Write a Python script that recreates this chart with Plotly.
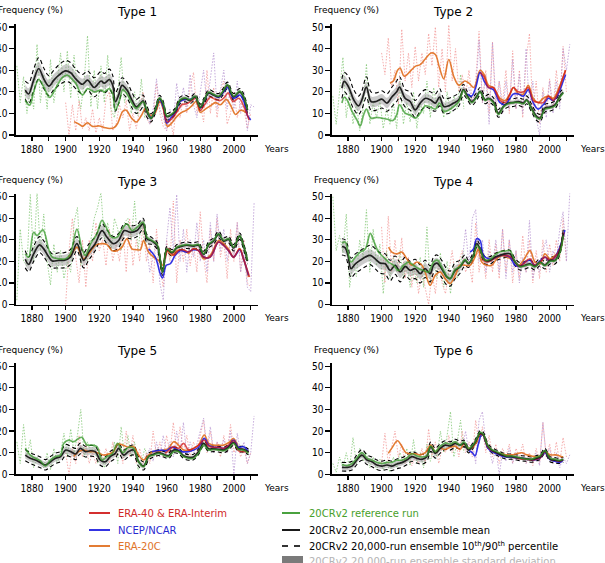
import plotly.graph_objects as go

W, H = 605, 563

# ---------------------------------------------------------------- data
X_TICK_VALUES = [1870, 1880, 1890, 1900, 1910, 1920, 1930, 1940, 1950, 1960, 1970, 1980, 1990, 2000, 2010]
X_TICK_LABELS = ["", "1880", "", "1900", "", "1920", "", "1940", "", "1960", "", "1980", "", "2000", ""]
Y_TICK_VALUES = [0, 10, 20, 30, 40, 50]
TITLES = ["Type 1", "Type 2", "Type 3", "Type 4", "Type 5", "Type 6"]

# annual (unsmoothed) values, sampled every second year
RAW_REF_YEARS = list(range(1871, 1950, 2))     # 20CRv2 reference run, 1871-1949
RAW_E20C_YEARS = list(range(1900, 2011, 2))    # ERA-20C, 1900-2010
RAW_MOD_YEARS = list(range(1948, 2013, 2))     # NCEP/NCAR & ERA, 1948-2012

# ---- Type 1
T1_ENS_YEARS = [1876, 1878, 1881, 1884, 1887, 1890, 1893, 1896, 1900, 1903,
                1906, 1910, 1913, 1917, 1921, 1923, 1926, 1928, 1929.5, 1931.5,
                1933.5, 1936.5, 1939.5, 1942, 1944.5, 1946, 1948.3, 1950.7, 1953.3, 1955.8,
                1957.8, 1960.2, 1962.6, 1965, 1968, 1971, 1974, 1977, 1980, 1982.4,
                1985, 1988, 1991, 1993.5, 1996.2, 1999.8, 2003.4, 2005.7, 2008.1]
T1_MEAN = [20.8, 19, 25.4, 30.8, 26, 22.6, 25.4, 27.7, 29.7, 28.8,
           26, 23.5, 25.4, 22, 25, 24, 25.7, 23, 15.4, 18.5,
           23, 20.8, 16, 13, 14.6, 15.8, 10.8, 7.7, 11.5, 16.9,
           14.6, 8.5, 9.2, 10.8, 16, 16.9, 16, 17.7, 12.8, 16,
           19.5, 18.5, 17.7, 20, 23, 17.7, 20, 17.7, 11.5]
T1_P90 = [25, 24, 30.5, 35.8, 31, 27.5, 30, 32.5, 34.5, 33.5,
          30.5, 28, 29.7, 26.5, 29.5, 28.5, 30.5, 27.5, 19.5, 22.5,
          26.5, 24.5, 19.5, 16.5, 18, 18.5, 13.5, 9.7, 13, 18.4,
          16.1, 10, 10.7, 12.3, 17.5, 18.4, 17.5, 19.2, 14.3, 17.5,
          21, 20, 19.2, 21.5, 24.5, 19.2, 21.5, 19.2, 13]
T1_P10 = [16.5, 14.5, 20.5, 26, 21.5, 18.3, 21, 23, 24.8, 24,
          21.5, 19, 20.8, 17.7, 20.5, 19.5, 21, 18.5, 11, 14.5,
          19, 17, 12.5, 10, 11.5, 13, 8.3, 6, 10, 15.4,
          13.1, 7, 7.7, 9.3, 14.5, 15.4, 14.5, 16.2, 11.3, 14.5,
          18, 17, 16.2, 18.5, 21.5, 16.2, 18.5, 16.2, 10]
T1_SD = [2.6, 2.6, 2.8, 3, 3, 2.8, 2.8, 2.8, 3, 3,
         2.8, 2.6, 2.6, 2.6, 2.7, 2.7, 2.8, 2.6, 2.3, 2.3,
         2.5, 2.3, 2, 1.8, 1.8, 1.6, 1.3, 1, 1, 1,
         1, 0.9, 0.9, 0.9, 1, 1, 1, 1, 0.9, 0.9,
         1, 1, 1, 1, 1, 1, 1, 1, 1]
T1_REF_YEARS = [1876, 1878.6, 1881, 1884, 1887, 1890.5, 1894, 1898, 1901, 1904,
                1906, 1910, 1913, 1917, 1921, 1923, 1926, 1928, 1929.5, 1932,
                1934, 1936.5, 1939.5, 1942, 1946, 1948.3, 1950.7, 1953.3, 1955.8, 1957.8,
                1960.2, 1962.6, 1965, 1968, 1971, 1974, 1977, 1980, 1982.4, 1985,
                1988, 1991, 1993.5, 1996.2, 1999.8, 2003.4, 2005.7, 2008.1]
T1_REF = [16, 13.8, 20, 25.7, 22.3, 17.4, 21.5, 26.6, 27.7, 25.7,
          24, 18.5, 21.5, 20, 20.8, 20, 21.5, 19, 11.5, 16,
          21, 19, 14.6, 12.3, 15.4, 11.5, 7.7, 11.8, 17.2, 15,
          8.8, 9.5, 11.2, 16.3, 17.2, 16.3, 18, 13, 16.3, 19.8,
          18.8, 18, 20.3, 23.3, 18, 20.3, 18, 11.8]
T1_E20C_YEARS = [1905, 1908, 1910, 1913, 1916, 1920, 1923, 1926, 1929, 1931,
                 1934, 1936, 1939, 1942, 1945, 1947.5, 1950.5, 1953, 1956, 1958,
                 1960.5, 1963, 1966, 1969, 1972, 1975, 1977.5, 1980, 1983, 1986,
                 1989, 1992, 1995.5, 1998.5, 2001, 2004, 2008]
T1_E20C = [6.2, 5, 4, 5.7, 4, 4.2, 3.5, 3, 3.5, 5.5,
           11, 11.5, 8, 6, 9, 12.3, 9, 10, 15.4, 12,
           4, 5.5, 8.5, 10.5, 11.5, 13.5, 15.5, 10.5, 12, 13.5,
           15, 14, 16.5, 13, 9.5, 11.5, 10]
T1_ERA_YEARS = [1958, 1960.5, 1963, 1966, 1969, 1972, 1975, 1977.5, 1980, 1983,
                1986, 1989, 1992, 1995, 1996.5, 1999.5, 2003, 2006, 2009]
T1_ERA = [13, 6, 7.5, 10.5, 14, 14.5, 16, 17, 11.5, 14.5,
          17.5, 16.5, 16, 18, 19.5, 15.5, 17, 13, 7]
T1_NCEP_YEARS = [1949, 1951, 1953.3, 1955.8, 1958, 1960.2, 1962.6, 1965, 1968, 1971,
                 1974, 1977, 1980, 1982.4, 1985, 1988, 1991, 1993.5, 1996.2, 1999.8,
                 2003.4, 2005.7, 2008.1, 2010]
T1_NCEP = [10, 8, 11.5, 16.5, 13, 5.5, 8, 10, 15.5, 16.5,
           16.5, 17.5, 12.5, 16, 19.5, 18.5, 17.5, 19.5, 22, 17,
           18.5, 16, 9, 7]
T1_RAW_REF = [32, 15, 27, 10, 22, 12, 42, 15, 28, 12,
              35, 15, 25, 38, 20, 39, 17, 37, 20, 12,
              25, 46, 13, 30, 12, 32, 15, 37, 12, 8,
              20, 36, 15, 22, 10, 20, 9, 26, 8, 14]
T1_RAW_E20C = [15, 0, 14, 2, 16, 3, 8, 2, 12, 1,
               8, 2, 17, 20, 2, 5, 14, 8, 16, 2,
               10, 3, 12, 20, 8, 5, 8, 24, 10, 4,
               2, 8, 0, 15, 8, 18, 10, 22, 29, 10,
               14, 6, 30, 10, 22, 8, 20, 25, 5, 10,
               20, 8, 15, 12, 3, 10]
T1_RAW_MOD = [12, 5, 12, 26, 12, 8, 2, 12, 6, 24,
              12, 22, 12, 28, 14, 8, 20, 30, 14, 25,
              38, 12, 22, 30, 12, 22, 12, 25, 10, 20,
              2, 14, 13]

# ---- Type 2
T2_ENS_YEARS = [1876.4, 1877.8, 1880.4, 1883.4, 1886.3, 1888.3, 1891, 1893.7, 1896.8, 1900.2,
                1903.2, 1906, 1909, 1910.7, 1914, 1917, 1920, 1923, 1926, 1929,
                1932, 1934.5, 1937, 1940, 1943, 1946, 1948.7, 1950.7, 1953.7, 1956.6,
                1958.6, 1961.6, 1963.6, 1966.5, 1969.5, 1972.5, 1975.4, 1978.4, 1981.4, 1984.4,
                1986.3, 1989.3, 1992.3, 1994.3, 1997.2, 2000.2, 2003.2, 2006.1, 2008.1]
T2_MEAN = [21.7, 24.8, 22.2, 16.3, 13.5, 16.3, 22.2, 15.5, 15.5, 16.6,
           14.8, 17.5, 20, 22.2, 17, 15.5, 11.6, 14.8, 17, 16.3,
           14.8, 17.5, 13.2, 13.5, 14.8, 16.3, 21, 18.6, 15.5, 17.9,
           20.2, 16.3, 17, 15.5, 10, 13.2, 14.8, 15, 15.5, 14.8,
           16.3, 12.4, 8.5, 7.8, 12.4, 12.9, 14, 17.9, 19.7]
T2_P90 = [26, 29, 27, 21, 18, 20.5, 27, 20, 19.5, 20.5,
          19, 22, 25, 27, 21, 20, 16, 19, 21, 20,
          19, 21.5, 17, 17, 18, 19.5, 23.5, 20.5, 17.3, 19.7,
          22, 18.1, 18.8, 17.3, 11.8, 15, 16.6, 16.8, 17.3, 16.6,
          18.1, 14.2, 10.3, 9.6, 14.2, 14.7, 15.8, 19.7, 21.5]
T2_P10 = [17, 20, 17.5, 12, 9.5, 12, 17.5, 11.5, 11.5, 12.5,
          11, 13, 15.5, 17.5, 13, 11.5, 8, 11, 13, 12,
          11, 13.5, 10, 10, 11.5, 13.5, 18.5, 16.7, 13.7, 16.1,
          18.4, 14.5, 15.2, 13.7, 8.2, 11.4, 13, 13.2, 13.7, 13,
          14.5, 10.6, 6.7, 6, 10.6, 11.1, 12.2, 16.1, 17.9]
T2_SD = [2.6, 2.6, 2.6, 2.4, 2.4, 2.4, 2.6, 2.4, 2.4, 2.4,
         2.4, 2.4, 2.6, 2.6, 2.4, 2.4, 2.2, 2.2, 2.2, 2.2,
         2.2, 2.2, 2, 2, 1.9, 1.7, 1.4, 1.1, 1, 1,
         1, 1, 1, 1, 1, 1, 1, 1, 1, 1,
         1, 1, 1, 1, 1, 1, 1, 1, 1]
T2_REF_YEARS = [1876.4, 1877.8, 1879.4, 1882.4, 1885.3, 1887.3, 1889.3, 1891, 1893.7, 1897.2,
                1900, 1903.6, 1906.7, 1909, 1910.7, 1914, 1917, 1920, 1923, 1926,
                1929, 1932, 1934.5, 1937, 1940, 1943, 1946, 1948.7, 1950.7, 1953.7,
                1956.6, 1958.6, 1961.6, 1963.6, 1966.5, 1969.5, 1972.5, 1975.4, 1978.4, 1981.4,
                1984.4, 1986.3, 1989.3, 1992.3, 1994.3, 1997.2, 2000.2, 2003.2, 2006.1, 2008.1]
T2_REF = [14.8, 17.5, 16.3, 10.9, 7, 4.2, 9.3, 12, 7.8, 8.2,
          7.8, 7.3, 6.7, 9.3, 14, 10.1, 9.3, 7.8, 10.1, 13.5,
          12.9, 12, 14.8, 10.9, 11.6, 13.2, 15.5, 20.7, 18, 15,
          17.5, 20, 16, 16.8, 15, 9.5, 13, 14.5, 15, 15,
          14.5, 16, 12, 8, 7.5, 12, 12.5, 13.5, 17.5, 19.5]
T2_E20C_YEARS = [1905, 1907, 1909.5, 1911, 1913.5, 1917, 1920, 1923, 1926, 1929.5,
                 1932, 1934.5, 1937, 1940, 1943, 1946, 1949.5, 1952, 1955, 1958.6,
                 1961, 1963.6, 1966.5, 1970.5, 1973.5, 1976.4, 1978.4, 1981.4, 1984.4, 1987.3,
                 1990.2, 1993.2, 1996.2, 1999.2, 2002.2, 2005.1, 2008.1, 2009.5]
T2_E20C = [24, 25, 30, 31, 27.2, 29.5, 31.8, 32.6, 35.2, 38,
           37.3, 31, 26, 35, 27, 23, 25, 24, 22, 30,
           28, 23, 22, 17, 16, 19, 22, 19, 19, 23,
           17, 15, 17, 18, 17, 21, 27, 30]
T2_ERA_YEARS = [1958.6, 1961, 1963.6, 1966.5, 1970.5, 1973.5, 1976.4, 1978.4, 1981.4, 1984.4,
                1987.3, 1990.2, 1993.2, 1996.2, 1999.2, 2002.2, 2005.1, 2008.1, 2009.5]
T2_ERA = [29, 27, 22, 22, 16, 15, 19, 22, 20, 20,
          22, 16, 15, 15, 18, 16, 20, 27, 30]
T2_NCEP_YEARS = [1951, 1953.5, 1956, 1958.6, 1961, 1963.6, 1966.5, 1970.5, 1973.5, 1976.4,
                 1978.4, 1981.4, 1984.4, 1987.3, 1990.2, 1993.2, 1996.2, 1999.2, 2002.2, 2005.1,
                 2008.1, 2009.5]
T2_NCEP = [19, 18, 22, 29, 25, 22, 21, 15, 14, 17,
           19, 19, 18, 21, 15, 12, 14, 17, 16, 19,
           25, 28]
T2_RAW_REF = [18, 5, 20, 36, 8, 20, 5, 15, 2, 12,
              33, 5, 15, 8, 16, 3, 12, 5, 15, 3,
              25, 5, 15, 6, 20, 3, 15, 10, 25, 8,
              22, 12, 18, 8, 20, 10, 18, 12, 28, 12]
T2_RAW_E20C = [38, 28, 45, 22, 30, 14, 49, 25, 38, 22,
               41, 25, 38, 28, 47, 32, 50, 22, 40, 20,
               51, 25, 40, 20, 28, 18, 30, 15, 25, 48,
               15, 30, 10, 43, 10, 25, 15, 30, 10, 39,
               12, 30, 8, 35, 47, 10, 25, 5, 22, 12,
               26, 12, 30, 15, 41, 20]
T2_RAW_MOD = [25, 18, 22, 15, 20, 44, 15, 28, 5, 43,
              15, 25, 10, 25, 12, 35, 12, 28, 10, 40,
              12, 25, 8, 0, 20, 8, 25, 10, 25, 12,
              40, 30, 42]

# ---- Type 3
T3_ENS_YEARS = [1876, 1878, 1881, 1884.5, 1887, 1890, 1892, 1896, 1899, 1902.8,
                1906.7, 1910.7, 1913.7, 1917.6, 1921.6, 1924.6, 1928.5, 1931.5, 1934.9, 1938.4,
                1942.4, 1946, 1948.3, 1951.3, 1954.3, 1957.6, 1960.2, 1963.2, 1966.1, 1969.1,
                1972, 1976, 1979, 1982, 1985, 1987.9, 1990.9, 1993.9, 1996.8, 1999.8,
                2003.4, 2005.7, 2008.1]
T3_MEAN = [21, 18.6, 23.5, 27.7, 25.8, 22, 20.2, 20.5, 20.5, 22,
           28.2, 20.5, 24.3, 28.2, 34.3, 31.2, 28.2, 29.7, 34.3, 33.5,
           34.3, 37.4, 30.5, 29.4, 27.4, 15, 25.5, 24, 26.3, 27.1,
           27.5, 27.1, 27.5, 23.2, 27.7, 29.4, 32.5, 29.4, 30.2, 26.3,
           31.7, 27.1, 20.2]
T3_P90 = [25, 22, 27, 31.5, 29.5, 25.5, 23.5, 24, 24, 25.5,
          31.5, 24, 28, 31.5, 37.5, 34.5, 31.5, 33, 37.5, 36.5,
          37, 40, 32.5, 31, 29, 16.5, 27, 25.5, 27.8, 28.6,
          29, 28.6, 29, 24.7, 29.2, 30.9, 34, 30.9, 31.7, 27.8,
          33.2, 28.6, 21.7]
T3_P10 = [17, 15.2, 20, 24, 22.2, 18.5, 17, 17, 17, 18.5,
          25, 17, 20.6, 25, 31, 28, 25, 26.4, 31, 30.5,
          31.5, 34.8, 28.5, 27.8, 25.8, 13.5, 24, 22.5, 24.8, 25.6,
          26, 25.6, 26, 21.7, 26.2, 27.9, 31, 27.9, 28.7, 24.8,
          30.2, 25.6, 18.7]
T3_SD = [2.6, 2.6, 2.6, 2.6, 2.6, 2.6, 2.5, 2.5, 2.5, 2.5,
         2.5, 2.5, 2.5, 2.5, 2.5, 2.5, 2.5, 2.5, 2.4, 2.3,
         2.2, 2, 1.6, 1.3, 1.1, 1, 1, 1, 1, 1,
         1, 1, 1, 1, 1, 1, 1, 1, 1, 1,
         1, 1, 1]
T3_REF_YEARS = [1876, 1878, 1881, 1883, 1886.5, 1890, 1892, 1896, 1900, 1902.8,
                1906.7, 1909.7, 1911.7, 1914.7, 1918.6, 1921.6, 1924.6, 1927.5, 1930.5, 1933.5,
                1936.4, 1939.4, 1942.4, 1946, 1948.3, 1951.3, 1954.3, 1957.6, 1960.2, 1963.2,
                1966.1, 1969.1, 1972, 1976, 1979, 1982, 1985, 1987.9, 1990.9, 1993.9,
                1996.8, 1999.8, 2003.4, 2005.7, 2008.1]
T3_REF = [23.5, 22, 33.5, 32, 34.6, 25.4, 22, 21.2, 21.2, 23.5,
          35, 25.8, 22.8, 28, 32.8, 39, 35, 31.2, 31.2, 35,
          37.4, 34.3, 35.8, 38.2, 31.2, 29.7, 28, 15, 25.8, 24.3,
          26.6, 27.4, 27.8, 27.4, 27.8, 23.5, 28, 29.7, 32.8, 29.7,
          30.5, 26.6, 32, 27.4, 20.5]
T3_E20C_YEARS = [1901.8, 1904, 1906.7, 1910.7, 1913.7, 1917.6, 1920.6, 1924.6, 1927.5, 1930.5,
                 1933.5, 1936.4, 1939.4, 1942.4, 1944.4, 1946.3, 1949.3, 1952.3, 1955.2, 1957.6,
                 1960.2, 1963.2, 1966.1, 1970.1, 1973, 1976, 1979, 1982, 1985.9, 1990.9,
                 1993.9, 1996.8, 1999.8, 2003.4, 2005.7, 2008.7]
T3_E20C = [22, 24, 26.6, 21.2, 23.5, 27.4, 28.2, 27.8, 25, 25,
           26.6, 30.5, 25.8, 25.4, 25.4, 29.7, 24.3, 22, 20.5, 18.2,
           25, 22.8, 25, 25, 23.8, 25.8, 25, 21.2, 22.8, 29.7,
           28.2, 25.8, 22, 25.8, 21.2, 12.8]
T3_ERA_YEARS = [1959.2, 1961.2, 1964.2, 1967.1, 1970.1, 1973, 1976, 1979, 1982, 1985.9,
                1990.9, 1993.9, 1996.8, 1999.8, 2003.4, 2005.7, 2009.3]
T3_ERA = [21.2, 25.8, 22.8, 25, 25.4, 24.3, 25.8, 25, 22, 22,
          29, 27.4, 25, 22, 25.8, 21.2, 12.8]
T3_NCEP_YEARS = [1949.3, 1953.3, 1956.2, 1957.6, 1959.8, 1962.2, 1965.1, 1968.1, 1972, 1976,
                 1979, 1982, 1985.9, 1990.9, 1993.9, 1996.8, 1999.8, 2003.4, 2005.7, 2008.7]
T3_NCEP = [25.8, 22, 14.3, 12.3, 18.2, 18.9, 22.8, 25, 24.3, 25.4,
           25, 22, 22, 29, 27.4, 25, 22, 25.4, 21.2, 13.5]
T3_RAW_REF = [2, 35, 20, 18, 51, 20, 52, 25, 42, 20,
              9, 28, 15, 25, 12, 20, 15, 38, 45, 18,
              25, 20, 30, 40, 45, 52, 30, 38, 25, 40,
              35, 25, 38, 40, 30, 48, 25, 38, 28, 30]
T3_RAW_E20C = [0, 25, 40, 22, 10, 30, 8, 30, 20, 38,
               25, 30, 18, 35, 20, 28, 20, 35, 15, 40,
               18, 30, 20, 38, 20, 28, 10, 35, 18, 8,
               30, 20, 48, 10, 30, 20, 35, 18, 28, 15,
               43, 22, 10, 35, 20, 40, 22, 30, 12, 35,
               20, 38, 15, 30, 10, 8]
T3_RAW_MOD = [28, 15, 22, 30, 10, 2, 30, 45, 25, 51,
              20, 35, 15, 30, 22, 38, 20, 30, 15, 38,
              20, 42, 25, 35, 20, 30, 22, 38, 15, 25,
              8, 6, 47]

# ---- Type 4
T4_ENS_YEARS = [1876.4, 1878.4, 1880, 1881.8, 1884.4, 1887.3, 1890.3, 1893.3, 1896.2, 1899.2,
                1902.2, 1905.1, 1908.1, 1911.1, 1914.1, 1917, 1920, 1923, 1925.9, 1928.9,
                1930.9, 1932.9, 1935.8, 1938.8, 1940.8, 1943.8, 1946.7, 1949.7, 1951.7, 1954.7,
                1956.6, 1958.6, 1961.6, 1964.6, 1967.5, 1970.5, 1973.5, 1976.4, 1979.4, 1982.4,
                1985.3, 1988.3, 1991.3, 1994.3, 1997.2, 2000.2, 2003.2, 2006.1, 2008.1]
T4_MEAN = [26.9, 26.3, 22.8, 16.6, 18.9, 20.5, 22, 22.8, 21.2, 19.2,
           18.9, 15.8, 18.2, 15.1, 17.7, 15.8, 16.6, 14.3, 16.6, 14.3,
           18.2, 19.2, 16.6, 12.8, 12, 15.8, 17.4, 20.5, 18.9, 22.8,
           28.2, 25.8, 20.5, 20.5, 22, 22.8, 23.5, 23.5, 19.7, 17.7,
           18.2, 18.9, 17.7, 19.7, 18.2, 20.5, 20.5, 25, 33]
T4_P90 = [30.5, 30, 27, 21.5, 23.5, 25, 26.5, 27.5, 26, 24,
          23.5, 20.5, 22.5, 19.5, 22, 20, 21, 18.5, 20.5, 18,
          22, 23, 20.5, 16.5, 15.5, 19.5, 20.5, 23, 20.5, 24.5,
          30, 27.5, 22.2, 22.2, 23.7, 24.5, 25.2, 25.2, 21.4, 19.4,
          19.9, 20.6, 19.4, 21.4, 19.9, 22.2, 22.2, 26.7, 34.7]
T4_P10 = [23, 22.5, 18.5, 12.5, 14.5, 16, 17.5, 18.5, 16.5, 14.5,
          14, 11, 14, 10.5, 13.5, 11.5, 12, 10, 12.5, 10.5,
          14.5, 15.5, 12.5, 9, 8.5, 12, 14.5, 18, 17.2, 21.1,
          26.5, 24.1, 18.8, 18.8, 20.3, 21.1, 21.8, 21.8, 18, 16,
          16.5, 17.2, 16, 18, 16.5, 18.8, 18.8, 23.3, 31.3]
T4_SD = [2.8, 2.8, 2.8, 2.8, 2.8, 2.8, 2.8, 2.8, 2.8, 2.8,
         2.8, 2.8, 2.8, 2.8, 2.7, 2.7, 2.7, 2.6, 2.6, 2.6,
         2.6, 2.5, 2.5, 2.4, 2.3, 2.2, 1.8, 1.3, 1, 1,
         1, 1, 1, 1, 1, 1, 1, 1, 1, 1,
         1, 1, 1, 1, 1, 1, 1, 1, 1]
T4_REF_YEARS = [1876.4, 1878.4, 1880, 1881.8, 1884.4, 1887.3, 1890.3, 1893.3, 1895.2, 1898.2,
                1901.2, 1904.2, 1907.1, 1910.1, 1913.1, 1916, 1919, 1922, 1925, 1927.9,
                1930.9, 1933.3, 1935.8, 1938.8, 1940.8, 1943.8, 1946.7, 1949.7, 1951.7, 1954.7,
                1956.6, 1958.6, 1961.6, 1964.6, 1967.5, 1970.5, 1973.5, 1976.4, 1979.4, 1982.4,
                1985.3, 1988.3, 1991.3, 1994.3, 1997.2, 2000.2, 2003.2, 2006.1, 2008.1]
T4_REF = [28.5, 29, 24.3, 19.7, 22, 24.3, 25.8, 33, 29.7, 24.3,
          22, 19.7, 18.2, 15.8, 18.2, 19.7, 18.2, 16.6, 15.8, 15.1,
          19.7, 20.5, 17.4, 13.1, 12, 16.2, 17.7, 20.8, 19.2, 22.5,
          27.5, 25.5, 20.5, 21, 23, 24.5, 24.8, 25, 20, 17.5,
          18, 18.5, 17.5, 19.5, 18, 20, 20.3, 24, 32]
T4_E20C_YEARS = [1904.2, 1906.1, 1909.1, 1912.1, 1915, 1918, 1921, 1924, 1925.9, 1928.9,
                 1931.9, 1934.9, 1937.8, 1940.8, 1943.8, 1946.7, 1949.7, 1952.7, 1955.6, 1957.6,
                 1959.6, 1962.6, 1965.5, 1968.5, 1971.5, 1974.5, 1978.4, 1981.4, 1984.4, 1988.3,
                 1991.3, 1994.3, 1997.2, 2000.2, 2003.2, 2006.1, 2008.1]
T4_E20C = [26.6, 24.3, 23.5, 24.3, 21.2, 18.2, 19.7, 18.2, 15.1, 8.9,
           13.5, 15.1, 12, 9.7, 13.5, 18.2, 18.2, 18.2, 22, 25.8,
           19.7, 18.2, 18.2, 21.2, 22.8, 22, 20.5, 18.2, 20.5, 25,
           19.7, 18.9, 23.5, 21.2, 22.8, 25, 32.8]
T4_ERA_YEARS = [1959.6, 1962.6, 1965.5, 1968.5, 1971.5, 1974.5, 1978.4, 1981.4, 1984.4, 1988.3,
                1991.3, 1994.3, 1997.2, 2000.2, 2003.2, 2006.1, 2008.5]
T4_ERA = [21.2, 19.7, 20.5, 22, 22.8, 22.8, 21.2, 17.7, 18.9, 21.2,
          18.2, 19.7, 22, 20.5, 22, 25.8, 33.5]
T4_NCEP_YEARS = [1952.7, 1954.7, 1956.6, 1958.6, 1960.6, 1963.6, 1966.5, 1970.5, 1973.5, 1976.4,
                 1979.4, 1982.4, 1985.3, 1988.3, 1991.3, 1994.3, 1997.2, 2000.2, 2003.2, 2006.1,
                 2009.1]
T4_NCEP = [24.3, 25.8, 30.5, 29.7, 22.8, 21.2, 21.2, 22.8, 22.8, 22,
           18.2, 17.7, 19.7, 20.5, 18.2, 20.2, 22, 20.2, 22, 26.6,
           34.6]
T4_RAW_REF = [50, 25, 32, 24, 42, 8, 20, 13, 30, 22,
              44, 15, 35, 18, 28, 5, 25, 12, 22, 15,
              25, 12, 20, 8, 18, 10, 22, 8, 36, 10,
              20, 12, 24, 8, 20, 5, 18, 12, 20, 25]
T4_RAW_E20C = [36, 10, 41, 15, 30, 15, 31, 12, 22, 8,
               20, 5, 15, 8, 0, 15, 5, 20, 10, 5,
               15, 25, 12, 20, 25, 15, 20, 10, 38, 15,
               25, 12, 30, 15, 28, 12, 35, 15, 30, 10,
               25, 12, 32, 15, 30, 10, 25, 12, 30, 15,
               28, 18, 30, 20, 40, 20]
T4_RAW_MOD = [20, 35, 18, 40, 44, 20, 30, 15, 25, 18,
              30, 15, 35, 12, 30, 15, 25, 10, 22, 15,
              39, 12, 20, 15, 25, 30, 15, 25, 20, 35,
              43, 20, 52]

# ---- Type 5
T5_ENS_YEARS = [1876, 1879, 1882, 1885, 1888, 1891, 1894, 1897, 1900, 1903,
                1906, 1908.7, 1911.7, 1914.7, 1917.6, 1920.6, 1923.6, 1926.5, 1929.5, 1931.5,
                1934.5, 1937.4, 1940.4, 1943.4, 1946.3, 1949.3, 1952.3, 1955.2, 1958.2, 1961.2,
                1964.2, 1967.1, 1970.1, 1973.1, 1976, 1979, 1982, 1985, 1987.9, 1990.9,
                1993.9, 1996.8, 1999.8, 2002.8, 2005.7, 2008.7]
T5_MEAN = [8.9, 7.4, 6.6, 5.4, 4.3, 5.8, 7.4, 8.2, 11.2, 10.5,
           9.4, 12, 10.5, 10.9, 10.5, 6.6, 5.8, 8.2, 9.7, 12,
           8.9, 10.5, 11.2, 5.8, 3.8, 8.2, 9.3, 10, 9.3, 8.6,
           11.2, 10.8, 8.6, 7.8, 8, 10.5, 14.3, 11.8, 11.8, 11.6,
           11.2, 12.5, 14.7, 11.8, 11.6, 10.3]
T5_P90 = [11.5, 10, 9, 8, 6.8, 8.2, 9.8, 10.6, 13.8, 13,
          12, 14.5, 13, 13.4, 13, 9, 8.2, 10.6, 12, 14.3,
          11.2, 12.8, 13.5, 8, 5.8, 9.8, 10.6, 11.3, 10.6, 9.9,
          12.5, 12.1, 9.9, 9.1, 9.3, 11.8, 15.6, 13.1, 13.1, 12.9,
          12.5, 13.8, 16, 13.1, 12.9, 11.6]
T5_P10 = [6.3, 5, 4, 3, 2, 3.5, 5, 5.8, 8.6, 8,
          6.8, 9.5, 8, 8.4, 8, 4.2, 3.5, 5.8, 7.4, 9.7,
          6.6, 8.2, 8.9, 3.6, 2, 6.6, 8, 8.7, 8, 7.3,
          9.9, 9.5, 7.3, 6.5, 6.7, 9.2, 13, 10.5, 10.5, 10.3,
          9.9, 11.2, 13.4, 10.5, 10.3, 9]
T5_SD = [1.6, 1.6, 1.6, 1.6, 1.5, 1.5, 1.5, 1.6, 1.7, 1.7,
         1.7, 1.7, 1.7, 1.7, 1.7, 1.6, 1.5, 1.5, 1.5, 1.5,
         1.5, 1.5, 1.5, 1.3, 1.2, 1.0, 0.8, 0.8, 0.8, 0.8,
         0.8, 0.8, 0.8, 0.8, 0.8, 0.8, 0.8, 0.8, 0.8, 0.8,
         0.8, 0.8, 0.8, 0.8, 0.8, 0.8]
T5_REF_YEARS = [1876, 1879, 1882, 1885, 1888, 1891, 1894, 1897, 1898.8, 1901.8,
                1904.8, 1907.7, 1909.7, 1912.7, 1915.6, 1918.6, 1921.6, 1924.6, 1927.5, 1930.9,
                1934, 1937.4, 1940.4, 1943.4, 1946.3, 1949.3, 1952.3, 1955.2, 1958.2, 1961.2,
                1964.2, 1967.1, 1970.1, 1973.1, 1976, 1979, 1982, 1985, 1987.9, 1990.9,
                1993.9, 1996.8, 1999.8, 2002.8, 2005.7, 2008.7]
T5_REF = [12, 8.9, 7.4, 6.2, 3.8, 6.6, 8.2, 8.9, 14.3, 15.8,
          15.1, 16.6, 17.1, 13.5, 13.5, 12.8, 6.6, 8.2, 9.4, 14.3,
          10, 12.5, 12, 5.8, 3.5, 8.2, 8.9, 9.7, 8.9, 8.2,
          10.5, 10.5, 8.2, 7.4, 7.4, 9.7, 13.5, 11.2, 11.5, 11.2,
          10.9, 12, 14.3, 11.5, 11.2, 9.7]
T5_E20C_YEARS = [1904.8, 1907.7, 1910.7, 1913.7, 1916.6, 1919.6, 1922.6, 1925.5, 1928.5, 1930.9,
                 1934, 1937.4, 1940.4, 1943.4, 1946.3, 1949.3, 1952.3, 1955.2, 1958.2, 1961.2,
                 1964.2, 1967.1, 1970.1, 1973.1, 1976, 1979, 1982.4, 1985, 1987.9, 1990.9,
                 1993.9, 1996.8, 1999.8, 2002.8, 2005.7, 2008.7]
T5_E20C = [8.2, 10.5, 11.2, 10.5, 10.5, 9.7, 8.9, 9.4, 10.5, 14,
           13.5, 12.5, 12.8, 8.9, 6.6, 8.9, 10.5, 10.5, 11.2, 12,
           15.1, 13.5, 11.2, 11.2, 12, 13.5, 18.2, 14.3, 13.5, 13.5,
           13.5, 14.6, 16.6, 12.5, 11.2, 10.5]
T5_ERA_YEARS = [1959.2, 1961.2, 1964.2, 1967.1, 1970.1, 1973.1, 1976, 1979, 1982.4, 1985,
                1987.9, 1990.9, 1993.9, 1996.8, 1999.8, 2002.8, 2005.7, 2008.7]
T5_ERA = [9.7, 10.9, 12.8, 12, 14.3, 11.2, 12, 13.5, 15.8, 13.1,
          12.5, 12.5, 12, 13.5, 15.5, 10.9, 10.5, 10.5]
T5_NCEP_YEARS = [1951.3, 1954.3, 1957.2, 1960, 1963, 1966, 1969, 1973.1, 1976, 1979,
                 1982.4, 1985, 1987.9, 1990.9, 1993.9, 1996.8, 1999.8, 2002.8, 2005.7, 2008.7]
T5_NCEP = [10.5, 10.9, 11.2, 10.9, 12.5, 11.5, 10.5, 10.5, 11.2, 12.5,
           16.6, 13.5, 12.5, 12.5, 12, 13.1, 15.8, 12.5, 12.8, 10.5]
T5_RAW_REF = [15, 5, 23, 8, 16, 3, 8, 5, 3, 10,
              2, 12, 5, 10, 19, 8, 21, 10, 18, 30,
              8, 15, 10, 14, 5, 10, 3, 10, 8, 15,
              5, 22, 8, 18, 8, 15, 2, 5, 12, 8]
T5_RAW_E20C = [10, 0, 12, 5, 18, 8, 14, 5, 10, 5,
               12, 6, 12, 5, 15, 8, 14, 5, 20, 8,
               18, 5, 12, 5, 10, 5, 20, 8, 15, 8,
               18, 10, 24, 10, 22, 10, 18, 8, 15, 10,
               18, 25, 10, 20, 10, 15, 8, 18, 10, 23,
               10, 15, 8, 12, 5, 10]
T5_RAW_MOD = [8, 12, 6, 15, 8, 18, 10, 15, 8, 20,
              10, 24, 8, 15, 10, 14, 20, 26, 12, 22,
              10, 15, 12, 16, 10, 20, 0, 19, 10, 15,
              5, 10, 27]

# ---- Type 6
T6_ENS_YEARS = [1876.4, 1879.4, 1882.4, 1885.3, 1888.3, 1891.3, 1894.3, 1897.2, 1900.2, 1903.2,
                1906.1, 1909.1, 1912.1, 1915, 1918, 1921, 1924, 1926.9, 1929.3, 1931.9,
                1934.9, 1937.8, 1940.8, 1943.8, 1946.7, 1949.1, 1951.7, 1954.3, 1956.6, 1958.6,
                1960.6, 1963, 1965.5, 1968.5, 1971.5, 1974.5, 1977.4, 1980.4, 1983.4, 1986.3,
                1989.3, 1992.3, 1994.3, 1997.2, 2000.2, 2003.2, 2006.1, 2008.1]
T6_MEAN = [3.2, 3.2, 3.8, 6.6, 8.9, 6.6, 5.8, 4.3, 3.8, 4.3,
           3.8, 4.8, 5.4, 6.6, 8.2, 7.4, 6.9, 8.2, 12.8, 9.7,
           12, 13.5, 13.1, 14.3, 13.5, 14.3, 11.2, 13.1, 16.2, 18.9,
           18.2, 13.5, 11.2, 10, 8.9, 8.2, 8.2, 7.8, 7.4, 7.2,
           6.8, 7.5, 8, 10.8, 7, 6.5, 6.2, 6.8]
T6_P90 = [5.5, 5.5, 6, 9, 11.5, 9, 8, 6.6, 6.1, 6.6,
          6.1, 7.1, 7.7, 8.9, 10.5, 9.7, 9.2, 10.5, 15, 12,
          14.2, 15.5, 15, 16.2, 15.3, 15.8, 12.5, 14.3, 17.4, 20.1,
          19.4, 14.7, 12.4, 11.2, 10.1, 9.4, 9.4, 9, 8.6, 8.4,
          8, 8.7, 9.2, 12, 8.2, 7.7, 7.4, 8]
T6_P10 = [1.5, 1.5, 2, 4.5, 6.5, 4.5, 3.5, 2.2, 1.7, 2.2,
          1.7, 2.6, 3.2, 4.4, 6, 5.2, 4.7, 6, 10.6, 7.5,
          9.8, 11.5, 11.2, 12.4, 11.7, 12.8, 9.9, 11.9, 15, 17.7,
          17, 12.3, 10, 8.8, 7.7, 7, 7, 6.6, 6.2, 6,
          5.6, 6.3, 6.8, 9.6, 5.8, 5.3, 5, 5.6]
T6_SD = [1.3, 1.3, 1.3, 1.4, 1.5, 1.4, 1.4, 1.3, 1.3, 1.3,
         1.3, 1.3, 1.3, 1.4, 1.4, 1.4, 1.4, 1.4, 1.5, 1.4,
         1.4, 1.3, 1.2, 1.2, 1.1, 1, 0.8, 0.7, 0.7, 0.7,
         0.7, 0.7, 0.7, 0.7, 0.7, 0.7, 0.7, 0.7, 0.7, 0.7,
         0.7, 0.7, 0.7, 0.7, 0.7, 0.7, 0.7, 0.7]
T6_REF_YEARS = T6_ENS_YEARS
T6_REF = [4.5, 4, 5, 7.5, 10, 7.5, 6.5, 5.5, 5, 5.5,
          5.5, 6.5, 6.5, 7.5, 9.5, 8.5, 8, 8.5, 13, 10.5,
          13, 14.5, 14, 15, 13.5, 15, 12, 13.5, 16.5, 19.5,
          18.5, 13.5, 11.5, 10.5, 9.5, 8.5, 8.5, 8, 7.5, 7,
          7, 8, 8.5, 11, 7.5, 7, 6.5, 7]
T6_E20C_YEARS = [1904, 1906, 1909.5, 1912, 1914.5, 1917, 1920, 1923, 1926, 1929.3,
                 1932, 1934.9, 1937.8, 1940.8, 1943.8, 1946.7, 1949, 1951.7, 1954.3, 1956.6,
                 1958.6, 1960.6, 1963, 1965.5, 1968.5, 1971.5, 1974.5, 1977.4, 1980.4, 1983.4,
                 1986.3, 1989.3, 1992.3, 1994.3, 1997.2, 2000.2, 2003.2, 2006.1, 2008]
T6_E20C = [9.7, 12, 15.5, 13, 10, 9.5, 9.5, 9, 10, 13.5,
           10, 12, 11.5, 12.5, 13, 11.5, 14, 12, 12.5, 15,
           18.5, 18, 13, 11, 10, 9.5, 9, 9, 9.5, 10,
           9, 8.5, 8, 8.5, 10.5, 9, 9, 8.5, 8]
T6_ERA_YEARS = [1958.6, 1960.6, 1963, 1965.5, 1968.5, 1971.5, 1974.5, 1977.4, 1980.4, 1983.4,
                1986.3, 1989.3, 1992.3, 1994.3, 1997.2, 2000.2, 2003.2, 2006.1, 2008]
T6_ERA = [18.5, 18, 13, 11, 10, 9, 8.5, 8.5, 7.5, 7,
          7, 6.5, 7, 7.5, 10.5, 7, 6.5, 6, 6.8]
T6_NCEP_YEARS = [1952, 1954, 1955.6, 1957.6, 1959.6, 1961, 1963, 1965.5, 1968.5, 1971.5,
                 1974.5, 1977.4, 1980.4, 1983.4, 1986.3, 1989.3, 1992.3, 1994.3, 1997.2, 2000.2,
                 2003.2, 2006.1, 2008]
T6_NCEP = [11, 10, 8.5, 14, 18.5, 17.5, 12.5, 10.5, 9.5, 8.5,
           8, 8, 7.5, 7.5, 7, 6.5, 6.8, 7.5, 10, 6.8,
           6, 5.5, 6.5]
T6_RAW_REF = [5, 1, 8, 3, 10, 3, 17, 5, 12, 6,
              10, 3, 8, 2, 7, 2, 6, 1, 8, 3,
              10, 5, 12, 4, 16, 5, 10, 3, 14, 6,
              12, 8, 20, 10, 18, 29, 8, 15, 25, 10]
T6_RAW_E20C = [5, 19, 5, 12, 20, 8, 14, 5, 10, 4,
               8, 5, 12, 5, 21, 8, 15, 5, 12, 10,
               18, 10, 15, 8, 20, 10, 15, 8, 25, 14,
               22, 10, 18, 8, 14, 5, 12, 8, 14, 5,
               12, 8, 14, 5, 10, 4, 12, 5, 24, 8,
               14, 5, 15, 5, 17, 8]
T6_RAW_MOD = [12, 20, 10, 15, 5, 25, 29, 15, 12, 5,
              12, 0, 10, 6, 12, 5, 10, 6, 10, 5,
              8, 6, 10, 4, 24, 8, 12, 5, 10, 3,
              8, 5, 9]

LEGEND_LABELS = ["ERA-40 & ERA-Interim", "NCEP/NCAR", "ERA-20C",
                 "20CRv2 reference run", "20CRv2 20,000-run ensemble mean",
                 "20CRv2 20,000-run ensemble 10<sup>th</sup>/90<sup>th</sup> percentile",
                 "20CRv2 20,000-run ensemble standard deviation"]

# ---------------------------------------------------------------- assemble
g = globals()
PANELS = []
for k in range(1, 7):
    p = dict(title=TITLES[k - 1])
    for key in ["ENS_YEARS", "MEAN", "P10", "P90", "SD", "REF_YEARS", "REF", "E20C_YEARS",
                "E20C", "ERA_YEARS", "ERA", "NCEP_YEARS", "NCEP", "RAW_REF", "RAW_E20C", "RAW_MOD"]:
        p[key] = g[f"T{k}_{key}"]
    p["RAW_REF_YEARS"] = RAW_REF_YEARS
    p["RAW_E20C_YEARS"] = RAW_E20C_YEARS
    p["RAW_MOD_YEARS"] = RAW_MOD_YEARS
    for a, b in [("ENS_YEARS", "MEAN"), ("ENS_YEARS", "P10"), ("ENS_YEARS", "P90"), ("ENS_YEARS", "SD"),
                 ("REF_YEARS", "REF"), ("E20C_YEARS", "E20C"), ("ERA_YEARS", "ERA"), ("NCEP_YEARS", "NCEP"),
                 ("RAW_REF_YEARS", "RAW_REF"), ("RAW_E20C_YEARS", "RAW_E20C"), ("RAW_MOD_YEARS", "RAW_MOD")]:
        if len(p[a]) != len(p[b]):
            raise ValueError(f"T{k} {a}/{b}: {len(p[a])} vs {len(p[b])}")
    PANELS.append(p)

C_RED = "#d01818"
C_BLUE = "#1e1ee0"
C_ORANGE = "#e06e1e"
C_GREEN = "#36982a"
RAW_GREEN = "#86c878"
RAW_PINK = "#f29a9a"
RAW_PURPLE = "#b896d2"
BAND = "rgba(140,140,140,0.45)"

TXT = "DejaVu Sans, Liberation Sans, sans-serif"
TICKFONT = dict(family="Liberation Sans Narrow, DejaVu Sans Condensed, Liberation Sans", size=10, color="black")

COL_X = [(16.0, 258.3), (332.0, 574.0)]
ROW_Y = [(23.8, 135.0), (193.5, 304.5), (363.0, 474.3)]
X_RANGE = [1870.5, 2014.5]
Y_RANGE = [0, 51.5]


def px(x):
    return x / W


def py(y):
    return 1 - y / H


fig = go.Figure()
layout = dict(width=W, height=H, autosize=False, margin=dict(l=0, r=0, t=0, b=0, pad=0),
              paper_bgcolor="white", plot_bgcolor="white", showlegend=False,
              annotations=[], shapes=[])

for i, p in enumerate(PANELS):
    k = i + 1
    row, col = divmod(i, 2)
    xs = "x" if k == 1 else f"x{k}"
    ys = "y" if k == 1 else f"y{k}"
    xa = "xaxis" if k == 1 else f"xaxis{k}"
    ya = "yaxis" if k == 1 else f"yaxis{k}"
    x0, x1 = COL_X[col]
    y0, y1 = ROW_Y[row]

    def line(x, y, color, width=1.6, dash=None, opacity=1.0, shape="spline"):
        fig.add_trace(go.Scatter(x=x, y=y, mode="lines", xaxis=xs, yaxis=ys, hoverinfo="skip",
                                 opacity=opacity, cliponaxis=True,
                                 line=dict(color=color, width=width, dash=dash, shape=shape)))

    # annual values (faint dotted)
    line(p["RAW_REF_YEARS"], p["RAW_REF"], RAW_GREEN, width=1, dash="1.5px,1.5px", opacity=0.8, shape="linear")
    line(p["RAW_E20C_YEARS"], p["RAW_E20C"], RAW_PINK, width=1, dash="1.5px,1.5px", opacity=0.8, shape="linear")
    line(p["RAW_MOD_YEARS"], p["RAW_MOD"], RAW_PURPLE, width=1, dash="1.5px,1.5px", opacity=0.8, shape="linear")

    yrs = p["ENS_YEARS"]
    lower = [m - s for m, s in zip(p["MEAN"], p["SD"])]
    upper = [m + s for m, s in zip(p["MEAN"], p["SD"])]
    fig.add_trace(go.Scatter(x=yrs, y=lower, mode="lines", xaxis=xs, yaxis=ys, hoverinfo="skip",
                             line=dict(width=0, shape="spline", color="rgba(0,0,0,0)")))
    fig.add_trace(go.Scatter(x=yrs, y=upper, mode="lines", xaxis=xs, yaxis=ys, hoverinfo="skip",
                             fill="tonexty", fillcolor=BAND,
                             line=dict(width=0, shape="spline", color="rgba(0,0,0,0)")))
    line(yrs, p["P90"], "black", width=1.1, dash="4px,3px")
    line(yrs, p["P10"], "black", width=1.1, dash="4px,3px")
    line(p["E20C_YEARS"], p["E20C"], C_ORANGE, opacity=0.9)
    line(p["NCEP_YEARS"], p["NCEP"], C_BLUE, opacity=0.9)
    line(p["ERA_YEARS"], p["ERA"], C_RED, opacity=0.75)
    line(yrs, p["MEAN"], "#202020", width=1.7)
    line(p["REF_YEARS"], p["REF"], C_GREEN, width=1.7, opacity=0.75)

    layout[xa] = dict(domain=[px(x0), px(x1)], range=X_RANGE, anchor=ys, showline=True,
                      linecolor="black", linewidth=1.6, ticks="outside", ticklen=4, tickwidth=1.2,
                      tickcolor="black", tickvals=X_TICK_VALUES, ticktext=X_TICK_LABELS,
                      tickfont=TICKFONT, showgrid=False, zeroline=False, fixedrange=True,
                      automargin=False)
    layout[ya] = dict(domain=[py(y1), py(y0)], range=Y_RANGE, anchor=xs, showline=True,
                      linecolor="black", linewidth=1.6, ticks="outside", ticklen=5, tickwidth=1.2,
                      tickcolor="black", tickvals=Y_TICK_VALUES, tickfont=TICKFONT,
                      showgrid=False, zeroline=False, fixedrange=True, automargin=False)

    cx = (x0 + x1) / 2
    ty = y0 - 12
    layout["annotations"].append(dict(text=p["title"], x=px(cx), y=py(ty), xref="paper", yref="paper",
                                      xanchor="center", yanchor="middle", showarrow=False,
                                      font=dict(family=TXT, size=12, color="black")))
    layout["annotations"].append(dict(text="Frequency (%)", x=px(x0 - 20), y=py(ty - 1.5), xref="paper",
                                      yref="paper", xanchor="left", yanchor="middle", showarrow=False,
                                      font=dict(family=TXT, size=9, color="black")))
    layout["annotations"].append(dict(text="Years", x=px(x1 + 3.5), y=py(y1 + 13.5), xref="paper",
                                      yref="paper", xanchor="left", yanchor="middle", showarrow=False,
                                      font=dict(family=TXT, size=9, color="black")))

# ---------------------------------------------------------------- legend
LEG_ROWS = [513, 530, 546, 561.5]
legend_items = [
    (89, 110, 116, LEG_ROWS[0], C_RED, "#d02828", LEGEND_LABELS[0], "solid"),
    (89, 110, 116, LEG_ROWS[1], C_BLUE, "#2828d0", LEGEND_LABELS[1], "solid"),
    (89, 110, 116, LEG_ROWS[2], C_ORANGE, "#e0742a", LEGEND_LABELS[2], "solid"),
    (282, 300, 307, LEG_ROWS[0], C_GREEN, "#48a02a", LEGEND_LABELS[3], "solid"),
    (282, 300, 307, LEG_ROWS[1], "black", "black", LEGEND_LABELS[4], "solid"),
    (282, 300, 307, LEG_ROWS[2], "black", "black", LEGEND_LABELS[5], "dash"),
]
for lx0, lx1, tx, ly, lc, tc, label, dash in legend_items:
    if dash == "dash":
        for a, b in [(lx0, lx0 + 6), (lx0 + 12, lx0 + 18)]:
            layout["shapes"].append(dict(type="line", xref="paper", yref="paper", x0=px(a), x1=px(b),
                                         y0=py(ly), y1=py(ly), line=dict(color=lc, width=1.6)))
    else:
        layout["shapes"].append(dict(type="line", xref="paper", yref="paper", x0=px(lx0), x1=px(lx1),
                                     y0=py(ly), y1=py(ly), line=dict(color=lc, width=1.8)))
    layout["annotations"].append(dict(text=label, x=px(tx), y=py(ly), xref="paper", yref="paper",
                                      xanchor="left", yanchor="middle", showarrow=False,
                                      font=dict(family=TXT, size=10, color=tc)))
layout["shapes"].append(dict(type="rect", xref="paper", yref="paper", x0=px(282), x1=px(303),
                             y0=py(567), y1=py(556), fillcolor="#7a7a7a", line=dict(width=0)))
layout["annotations"].append(dict(text=LEGEND_LABELS[6], x=px(307), y=py(LEG_ROWS[3]), xref="paper",
                                  yref="paper", xanchor="left", yanchor="middle", showarrow=False,
                                  font=dict(family=TXT, size=10, color="#b4b4b4")))

fig.update_layout(**layout)
fig.write_html("out.html",
               config={"displayModeBar": False, "staticPlot": True},
               post_script="document.body.style.margin='0';document.body.style.padding='0';"
                           "document.body.style.overflow='hidden';")
